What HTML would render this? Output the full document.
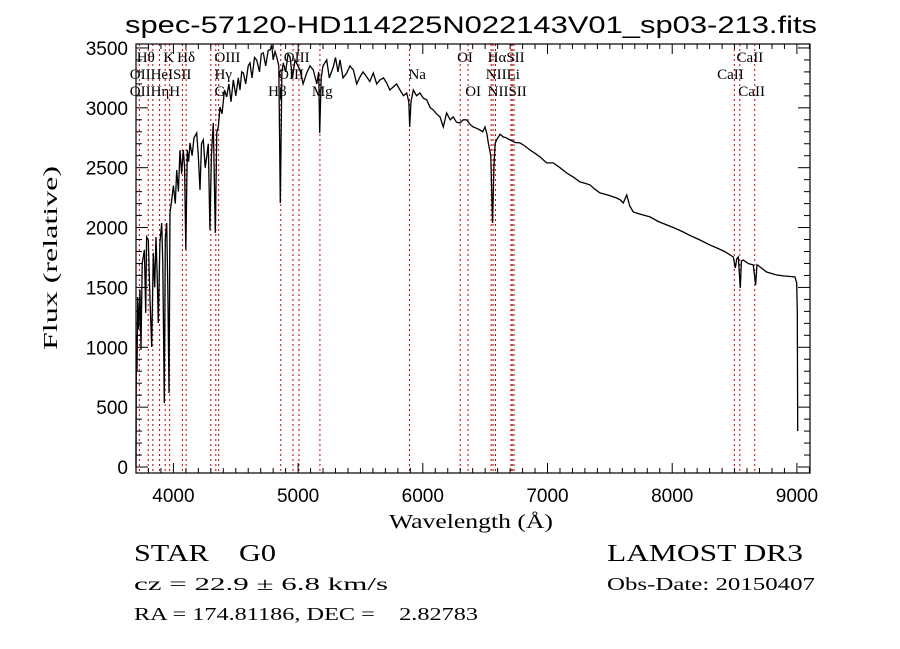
<!DOCTYPE html>
<html><head><meta charset="utf-8">
<style>
html,body{margin:0;padding:0;background:#fff;}
svg{display:block;}
text{fill:#000;}
.pre{white-space:pre;}
</style></head>
<body>
<svg id="chart" width="900" height="649" viewBox="0 0 900 649" xmlns="http://www.w3.org/2000/svg">
<rect width="900" height="649" fill="#fff"/>
<g id="lines"></g>
<g id="labels"></g>
<path id="spec" fill="none" stroke="#000" stroke-width="1.3" stroke-linejoin="miter"/>
<g id="axes"></g>
<text x="471" y="33" font-family="Liberation Sans, sans-serif" font-size="24" text-anchor="middle" textLength="692" lengthAdjust="spacingAndGlyphs">spec-57120-HD114225N022143V01_sp03-213.fits</text>
<text x="471" y="528" font-family="Liberation Serif, serif" font-size="20" text-anchor="middle" textLength="164" lengthAdjust="spacingAndGlyphs">Wavelength (Å)</text>
<text transform="translate(57,258) rotate(-90)" font-family="Liberation Serif, serif" font-size="20" text-anchor="middle" textLength="184" lengthAdjust="spacingAndGlyphs">Flux (relative)</text>
<text class="pre" xml:space="preserve" x="134" y="561" font-family="Liberation Serif, serif" font-size="24" textLength="142" lengthAdjust="spacingAndGlyphs">STAR    G0</text>
<text x="134" y="590" font-family="Liberation Serif, serif" font-size="18" textLength="254" lengthAdjust="spacingAndGlyphs">cz = 22.9 ± 6.8 km/s</text>
<text class="pre" xml:space="preserve" x="134" y="620" font-family="Liberation Serif, serif" font-size="18" textLength="344" lengthAdjust="spacingAndGlyphs">RA = 174.81186, DEC =    2.82783</text>
<text x="607" y="561" font-family="Liberation Serif, serif" font-size="24" textLength="196" lengthAdjust="spacingAndGlyphs">LAMOST DR3</text>
<text x="607" y="590" font-family="Liberation Serif, serif" font-size="18" textLength="208" lengthAdjust="spacingAndGlyphs">Obs-Date: 20150407</text>
</svg>
<script>
const wavelengths=[3700,3702,3705,3708,3714,3722,3732,3740,3750,3767,3778,3785,3799,3812,3826,3839,3850,3860,3870,3879,3892,3906,3915,3927,3935,3946,3955,3965,3973,3986,4000,4015,4026,4040,4053,4066,4079,4090,4099,4111,4122,4133,4150,4165,4187,4200,4213,4225,4240,4255,4267,4280,4293,4305,4320,4336,4348,4360,4374,4390,4410,4427,4445,4462,4480,4500,4520,4534,4548,4561,4580,4600,4614,4630,4650,4668,4690,4705,4721,4740,4760,4775,4788,4800,4815,4828,4845,4857,4870,4881,4900,4920,4935,4955,4975,5015,5040,5069,5095,5122,5150,5165,5173,5185,5200,5229,5250,5282,5300,5320,5336,5360,5390,5415,5443,5470,5496,5520,5550,5575,5603,5630,5657,5685,5710,5735,5763,5790,5817,5845,5871,5888,5895,5905,5924,5950,5977,6005,6031,6060,6084,6110,6138,6164,6191,6220,6244,6270,6298,6325,6352,6380,6405,6430,6459,6480,6499,6515,6525,6545,6555,6560,6570,6580,6592,6620,6645,6670,6699,6740,6779,6820,6860,6900,6940,6993,7046,7100,7154,7210,7260,7300,7341,7380,7421,7490,7555,7585,7608,7635,7660,7688,7750,7822,7890,7956,8020,8089,8150,8223,8290,8357,8420,8490,8506,8518,8530,8546,8555,8570,8610,8650,8669,8680,8704,8757,8838,8900,8960,8985,8998,9003,9006];
const fluxes=[0,650,1100,800,1420,1150,1479,977,1700,1813,1287,1921,1896,1395,1002,1788,1500,1921,1600,1203,1871,2038,1700,535,1900,2038,1500,618,2122,2230,2350,2200,2481,2300,2648,2450,2648,2500,1813,2648,2550,2707,2600,2750,2790,2600,2314,2700,2732,2500,2590,2700,1980,2600,2874,1955,2800,2840,3007,2950,3150,3091,3200,3050,3233,3100,3250,3149,3300,3291,3200,3350,3375,3250,3420,3400,3300,3450,3459,3350,3480,3484,3525,3400,3470,3425,3350,2205,3300,3375,3300,3450,3425,3250,3400,3316,3200,3291,3350,3316,3200,3300,2790,3250,3350,3400,3250,3342,3420,3300,3400,3250,3291,3350,3316,3200,3258,3300,3258,3220,3291,3200,3233,3250,3208,3150,3174,3200,3149,3100,3124,3050,2840,3050,3149,3100,3124,3080,3066,3000,2982,2950,2924,2840,2957,2900,2924,2880,2874,2900,2899,2860,2840,2830,2815,2800,2840,2780,2707,2600,2200,2038,2500,2700,2732,2780,2757,2750,2732,2710,2707,2680,2648,2620,2590,2540,2540,2500,2456,2420,2381,2370,2356,2320,2289,2270,2247,2230,2205,2272,2180,2130,2110,2089,2050,2022,1995,1963,1930,1896,1860,1830,1800,1754,1662,1740,1754,1495,1720,1729,1700,1687,1520,1690,1671,1629,1604,1595,1590,1587,1537,1287,300];
const xTicks=[4000,5000,6000,7000,8000,9000];
const yTicks=[0,500,1000,1500,2000,2500,3000,3500];
const lineWaves=[3727,3798,3835,3889,3934,3970,4072,4102,4300,4340,4363,4861,4959,5007,5175,5893,6300,6363,6548,6563,6583,6707,6717,6731,8498,8542,8662];
const lineLabels=["Hθ","K","Hδ","OIII","OIII","OI","HαSII","CaII","OIIHeISII","Hγ","OIII","Na","NIILi","CaII","OIIHηH","G","Hβ","Mg","OI","NIISII","CaII"];
const labelWaves=[3706,3920,4030,4330,4885,6275,6520,8516,3650,4330,4840,5885,6505,8360,3650,4330,4760,5110,6340,6520,8530];
const labelRows=[0,0,0,0,0,0,0,0,1,1,1,1,1,1,2,2,2,2,2,2,2];

const X0=136,X1=810,Y0=44,Y1=473,WMIN=3700,WMAX=9105,FMIN=-50,FMAX=3533;
const xs=w=>X0+(w-WMIN)/(WMAX-WMIN)*(X1-X0);
const ys=f=>Y1-(f-FMIN)/(FMAX-FMIN)*(Y1-Y0);
const NS='http://www.w3.org/2000/svg';
function mk(tag,attrs,parent){const e=document.createElementNS(NS,tag);for(const k in attrs)e.setAttribute(k,attrs[k]);parent.appendChild(e);return e;}

const lg=document.getElementById('lines');
lineWaves.forEach(w=>{
  const l=mk('line',{x1:xs(w),x2:xs(w),y1:Y0,y2:Y1,stroke:'#c00000','stroke-width':1,'stroke-dasharray':'2,3'},lg);
  
  
});
const lb=document.getElementById('labels');
lineLabels.forEach((t,i)=>{
  const e=mk('text',{x:xs(labelWaves[i]),y:62+labelRows[i]*17,'font-family':'Liberation Serif, serif','font-size':15},lb);
  e.textContent=t;
  
  
});
let d='';
wavelengths.forEach((w,i)=>{d+=(i?'L':'M')+xs(w).toFixed(1)+','+Math.max(Y0,ys(fluxes[i])).toFixed(1);});
document.getElementById('spec').setAttribute('d',d);

const ax=document.getElementById('axes');
const frame=mk('rect',{x:X0,y:Y0,width:X1-X0,height:Y1-Y0,fill:'none',stroke:'#000','stroke-width':1.2},ax);


for(let w=3700;w<=9100;w+=100){
  const L=(w%1000===0)?10:5;const x=xs(w);
  mk('line',{x1:x,x2:x,y1:Y1,y2:Y1-L,stroke:'#000'},ax);
  mk('line',{x1:x,x2:x,y1:Y0,y2:Y0+L,stroke:'#000'},ax);
}
for(let f=0;f<=3500;f+=100){
  const L=(f%500===0)?12:6;const y=ys(f);
  mk('line',{x1:X0,x2:X0+L,y1:y,y2:y,stroke:'#000'},ax);
  mk('line',{x1:X1,x2:X1-L,y1:y,y2:y,stroke:'#000'},ax);
}
xTicks.forEach(v=>{
  const t=mk('text',{x:xs(v),y:502,'font-family':'Liberation Sans, sans-serif','font-size':19,'text-anchor':'middle'},ax);
  t.textContent=v;
  
  
});
yTicks.forEach(v=>{
  const t=mk('text',{x:128,y:ys(v)+7,'font-family':'Liberation Sans, sans-serif','font-size':19,'text-anchor':'end'},ax);
  t.textContent=v;
  
  
});
</script>
</body></html>
